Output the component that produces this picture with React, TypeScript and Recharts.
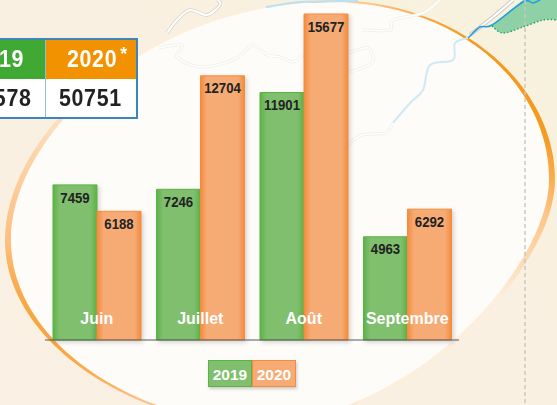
import React from 'react';
import { BarChart, Bar, XAxis, YAxis, LabelList, Legend } from 'recharts';

const months = ['Juin', 'Juillet', 'Août', 'Septembre'];
const values2019 = [7459, 7246, 11901, 4963];
const values2020 = [6188, 12704, 15677, 6292];
const chartData = months.map((name, i) => ({ name, y2019: values2019[i], y2020: values2020[i] }));

const FONT = '"Liberation Sans", sans-serif';

// smooth line through hand-read points (map background only)
const smooth = (pts: number[][]) => {
  const n = pts.length;
  const at = (i: number) => pts[Math.max(0, Math.min(n - 1, i))];
  let d = `M${pts[0][0]},${pts[0][1]}`;
  for (let i = 0; i < n - 1; i++) {
    const p0 = at(i - 1), p1 = at(i), p2 = at(i + 1), p3 = at(i + 2);
    d += `C${p1[0] + (p2[0] - p0[0]) / 6},${p1[1] + (p2[1] - p0[1]) / 6} ${p2[0] - (p3[0] - p1[0]) / 6},${p2[1] - (p3[1] - p1[1]) / 6} ${p2[0]},${p2[1]}`;
  }
  return d;
};

const outerEdge = 'M5,240 C5,130 150,0 330,0 C460,0 555,85 555,180 C555,265 420,420 260,425 C150,428 5,350 5,240 Z';
const innerEdge = 'M11,240 C11,132 153,2 330,2 C461,2 550,87 549,180 C549,263 418,418 260,423 C152,426 11,350 11,240 Z';
const roadA = [[167, 33], [177, 20], [190, 10], [207, 15], [220, 5], [218, 0]];
const roadB = [[158, 48], [182, 45], [177, 57], [200, 67], [233, 60], [253, 45], [267, 55], [280, 57], [293, 62], [303, 55]];
const roadC = [[348, 53], [368, 48], [372, 63], [350, 72]];
const roadD = [[362, 30], [390, 30], [393, 20], [423, 13], [440, 0]];
const roadE = [[348, 145], [362, 135], [385, 133], [393, 123]];
const roadOut = [[470, 35], [493, 17], [513, 0]];
const riverIn = [[393, 123], [410, 103], [423, 90], [430, 65], [453, 60], [455, 43], [468, 38]];
const riverOut = [[468, 38], [480, 27], [492, 25], [523, 2], [533, 3], [540, 0]];
const riverTop = [[266, 7], [300, 2], [315, 2], [340, 1], [358, 1]];
const wood = [[492, 26], [503, 33], [523, 27], [543, 20], [557, 20]];

const Background = () => (
  <svg width={557} height={405} style={{ position: 'absolute', left: 0, top: 0 }}>
    <defs>
      <linearGradient id="ground" x1="0" y1="1" x2="1" y2="0">
        <stop offset="0" stopColor="#faf0e3" />
        <stop offset="0.6" stopColor="#faf0e1" />
        <stop offset="1" stopColor="#f6f2dc" />
      </linearGradient>
      <linearGradient id="rim" gradientUnits="userSpaceOnUse" x1="60" y1="400" x2="490" y2="40">
        <stop offset="0.03" stopColor="#f39a1f" />
        <stop offset="0.11" stopColor="#fcc080" />
        <stop offset="0.32" stopColor="#fde0c0" />
        <stop offset="0.42" stopColor="#fdeedd" />
        <stop offset="0.72" stopColor="#fdeedd" />
        <stop offset="0.88" stopColor="#fcc485" />
        <stop offset="0.97" stopColor="#f39a1f" />
      </linearGradient>
    </defs>
    <rect width={557} height={405} fill="url(#ground)" />
    <path d={`M492,26 ${smooth(wood).replace(/^M[^C]*/, '')} L557,0 L523,0 Z`} fill="#8fd1a6" />
    <path d={smooth(wood)} fill="none" stroke="#2aa163" strokeWidth={1.5} strokeDasharray="1.5 2" />
    <path d={smooth(roadOut)} fill="none" stroke="#c9c9c6" strokeWidth={4} />
    <path d={smooth(roadOut)} fill="none" stroke="#ffffff" strokeWidth={2} />
    <path d={smooth(roadA)} fill="none" stroke="#d5d3cd" strokeWidth={3.5} />
    <path d={smooth(roadA)} fill="none" stroke="#ffffff" strokeWidth={2} />
    <path d={smooth(riverOut)} fill="none" stroke="#1f9fdc" strokeWidth={1.5} />
    <path d={outerEdge} fill="url(#rim)" />
    <path d={innerEdge} fill="#fdfcf8" />
    {[roadB, roadC, roadD, roadE].map((r, i) => (
      <g key={i}>
        <path d={smooth(r)} fill="none" stroke="#eeeeea" strokeWidth={3} />
        <path d={smooth(r)} fill="none" stroke="#ffffff" strokeWidth={1.5} />
      </g>
    ))}
    <path d={smooth(riverIn)} fill="none" stroke="#cfe9f6" strokeWidth={2} />
    <path d={smooth(riverTop)} fill="none" stroke="#b9e2f5" strokeWidth={2} />
    <line x1={525} y1={0} x2={525} y2={405} stroke="#c9c7c2" strokeWidth={1.5} strokeDasharray="4 3" />
  </svg>
);

const cellText: React.CSSProperties = {
  position: 'absolute',
  fontFamily: FONT,
  fontWeight: 700,
  fontSize: 23,
  letterSpacing: 0.7,
  lineHeight: '38px',
  whiteSpace: 'nowrap',
  transform: 'scaleX(0.93)',
};

const TotalsTable = () => (
  <div style={{ position: 'absolute', left: -4, top: 38, width: 142, height: 81, boxSizing: 'border-box', border: '2px solid #3b86bd', background: '#fff' }}>
    <div style={{ position: 'absolute', left: 0, top: 0, width: 47, height: 39, background: '#3fa934' }} />
    <div style={{ position: 'absolute', left: 48, top: 0, width: 90, height: 39, background: '#f39200' }} />
    <div style={{ position: 'absolute', left: 47, top: 0, width: 1, height: 77, background: '#8fc0e0' }} />
    <span style={{ ...cellText, right: 112, top: 0, color: '#fff', transformOrigin: 'right' }}>19</span>
    <span style={{ ...cellText, left: 69, top: 0, color: '#fff', transformOrigin: 'left' }}>2020</span>
    <span style={{ ...cellText, left: 122, top: -5, fontSize: 19, color: '#fff' }}>*</span>
    <span style={{ ...cellText, right: 105, top: 39, color: '#222', transformOrigin: 'right' }}>578</span>
    <span style={{ ...cellText, left: 61, top: 39, color: '#222', transformOrigin: 'left' }}>50751</span>
  </div>
);

const LegendBox = () => (
  <div style={{ display: 'flex', width: 88, height: 27, fontFamily: FONT, fontWeight: 700, fontSize: 15.5, color: '#fff', lineHeight: '27px', textAlign: 'center', boxShadow: '1px 2px 3px rgba(0,0,0,0.2)' }}>
    <div style={{ width: 44, boxSizing: 'border-box', background: '#7fbf6d', border: '1px solid #5cb247' }}>2019</div>
    <div style={{ width: 44, boxSizing: 'border-box', background: '#f6ab75', border: '1px solid #f58b3d' }}>2020</div>
  </div>
);

const barShadow = { filter: 'drop-shadow(2px 2px 2px rgba(0,0,0,0.16))' };
const labelStyle = { fontFamily: FONT, fontWeight: 700, fontSize: 15, fill: '#222', transformBox: 'fill-box', transformOrigin: 'center', transform: 'scaleX(0.88)' };

export default function App() {
  return (
    <div style={{ position: 'absolute', left: 0, top: 0, width: 557, height: 405, overflow: 'hidden' }}>
      <Background />
      <TotalsTable />
      <div style={{ position: 'absolute', left: 0, top: 0 }}>
        <BarChart width={557} height={405} data={chartData} barSize={44} barGap={0} margin={{ top: 14, right: 98, bottom: 37, left: 45 }}>
          <defs>
            <linearGradient id="green" x1="0" y1="0" x2="1" y2="0">
              <stop offset="0" stopColor="#5cb247" />
              <stop offset="0.15" stopColor="#7fbf6d" />
              <stop offset="0.85" stopColor="#7fbf6d" />
              <stop offset="1" stopColor="#5cb247" />
            </linearGradient>
            <linearGradient id="orange" x1="0" y1="0" x2="1" y2="0">
              <stop offset="0" stopColor="#f58b3d" />
              <stop offset="0.15" stopColor="#f6ab75" />
              <stop offset="0.85" stopColor="#f6ab75" />
              <stop offset="1" stopColor="#f58b3d" />
            </linearGradient>
          </defs>
          <YAxis hide domain={[0, 15677]} />
          <Legend content={<LegendBox />} wrapperStyle={{ left: 208, top: 360, width: 88 }} />
          <Bar dataKey="y2019" name="2019" fill="url(#green)" stroke="#5cb247" style={barShadow} isAnimationActive={false}>
            <LabelList dataKey="y2019" position="insideTop" offset={7} style={labelStyle} />
          </Bar>
          <Bar dataKey="y2020" name="2020" fill="url(#orange)" stroke="#f58b3d" style={barShadow} isAnimationActive={false}>
            <LabelList dataKey="y2020" position="insideTop" offset={7} style={labelStyle} />
          </Bar>
          <XAxis
            dataKey="name"
            interval={0}
            height={1}
            tickLine={false}
            axisLine={{ stroke: '#55585c', strokeWidth: 1 }}
            tick={{ fill: '#fff', fontSize: 16, fontWeight: 700, fontFamily: FONT, dy: -35 }}
          />
        </BarChart>
      </div>
    </div>
  );
}
